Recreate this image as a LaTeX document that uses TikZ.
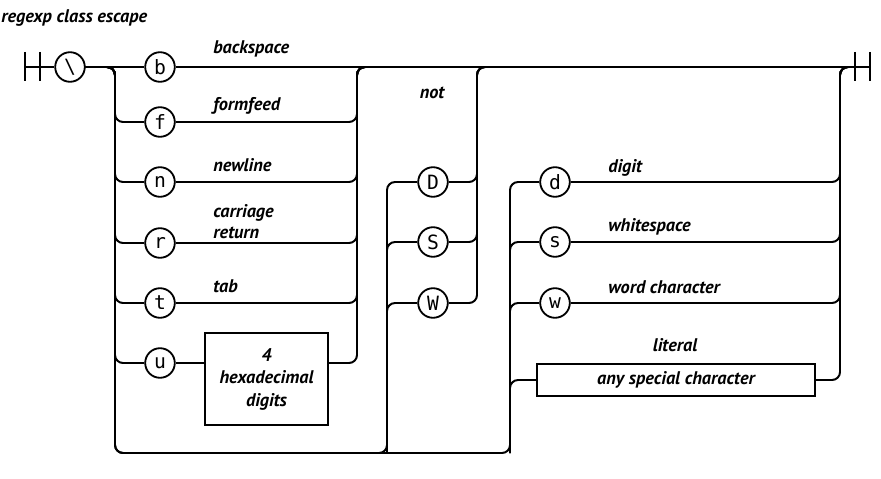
\documentclass[tikz,border=0pt]{standalone}
\usepackage{fontspec}
\setmainfont{PT Sans}
\newfontfamily\railmono{DejaVu Sans Mono}
\usetikzlibrary{positioning}

\tikzset{
  rail/.style={line width=1.4pt, rounded corners=0.2cm},
  bar/.style={line width=1.4pt},
  term/.style={circle, draw, line width=1.3pt, fill=white, minimum size=0.74cm,
    inner sep=0pt, font=\railmono\fontsize{14}{14}\selectfont},
  nonterm/.style={draw, line width=1.3pt, fill=white, align=center, inner sep=0pt,
    font=\bfseries\itshape\fontsize{13}{16}\selectfont},
  lbl/.style={anchor=base west, inner sep=0pt, font=\bfseries\itshape\fontsize{13}{15}\selectfont},
}

\begin{document}
\begin{tikzpicture}[x=0.025cm, y=-0.025cm]
  \useasboundingbox (0,0) rectangle (881,479);

  \node[lbl] (ttl) at (1,23) {regexp class escape};

  % ends of the track
  \coordinate (start) at (25,67);
  \coordinate (finish) at (870,67);
  \draw[bar] (25,52) -- (25,81);
  \draw[bar] (40,52) -- (40,81);
  \draw[bar] (855,52) -- (855,81);
  \draw[bar] (870,52) -- (870,81);

  % split and join points
  \coordinate (lsplit) at (115,67);
  \coordinate (j1) at (357,67);
  \coordinate (j2) at (477,67);
  \coordinate (j3) at (840,67);
  \coordinate (sbot) at (387,453);
  \coordinate (dbot) at (510,453);

  % terminals
  \node[term] (esc) at (70,67) {\textbackslash};
  \node[term] (b) at (160,67) {b};
  \node[term] (f) at (160,122) {f};
  \node[term] (n) at (160,182) {n};
  \node[term] (r) at (160,243) {r};
  \node[term] (t) at (160,303) {t};
  \node[term] (u) at (160,363) {u};
  \node[term] (D) at (433,182) {D};
  \node[term] (S) at (433,242) {S};
  \node[term] (W) at (433,303) {W};
  \node[term] (d) at (555,182) {d};
  \node[term] (s) at (555,242) {s};
  \node[term] (w) at (555,303) {w};

  % boxes
  \node[nonterm, minimum width=3.075cm, minimum height=2.3cm] (hex) at (266.5,379)
    {4\\hexadecimal\\digits};
  \node[nonterm, minimum width=6.95cm, minimum height=0.8cm] (lit) at (676,380)
    {any special character};

  % labels
  \node[lbl] (lb) at (213,54) {backspace};
  \node[lbl] (lf) at (213,111) {formfeed};
  \node[lbl] (ln) at (213,171) {newline};
  \node[lbl, anchor=south west, align=left] (lr) at (213,239) {carriage\\return};
  \node[lbl] (lt) at (213,292) {tab};
  \node[lbl, anchor=center] (lnot) at (432,93) {not};
  \node[lbl] (ld) at (608,172) {digit};
  \node[lbl] (ls) at (608,231) {whitespace};
  \node[lbl] (lw) at (608,293) {word character};
  \node[lbl, anchor=center] (llit) at (675,345) {literal};

  % main line
  \draw[rail] (start) -- (esc);
  \draw[rail] (esc) -- (b);
  \draw[rail] (b) -- (finish);

  % left choices
  \draw[rail] (esc.east) -- (lsplit) |- (f.west);
  \draw[rail] (esc.east) -- (lsplit) |- (n.west);
  \draw[rail] (esc.east) -- (lsplit) |- (r.west);
  \draw[rail] (esc.east) -- (lsplit) |- (t.west);
  \draw[rail] (esc.east) -- (lsplit) |- (u.west);
  \draw[rail] (u.east) -- (u.east -| hex.west);
  \draw[rail] (f.east) -| (j1) -- (finish);
  \draw[rail] (n.east) -| (j1) -- (finish);
  \draw[rail] (r.east) -| (j1) -- (finish);
  \draw[rail] (t.east) -| (j1) -- (finish);
  \draw[rail] (u.east -| hex.east) -| (j1) -- (finish);

  % not D S W
  \draw[rail] (esc.east) -- (lsplit) |- (sbot) |- (D.west);
  \draw[rail] (sbot) |- (S.west);
  \draw[rail] (sbot) |- (W.west);
  \draw[rail] (D.east) -| (j2) -- (finish);
  \draw[rail] (S.east) -| (j2) -- (finish);
  \draw[rail] (W.east) -| (j2) -- (finish);

  % d s w literal
  \draw[rail] (esc.east) -- (lsplit) |- (dbot) |- (d.west);
  \draw[rail] (dbot) |- (s.west);
  \draw[rail] (dbot) |- (w.west);
  \draw[rail] (dbot) |- (lit.west);
  \draw[rail] (d.east) -| (j3) -- (finish);
  \draw[rail] (s.east) -| (j3) -- (finish);
  \draw[rail] (w.east) -| (j3) -- (finish);
  \draw[rail] (lit.east) -| (j3) -- (finish);
\end{tikzpicture}
\end{document}
